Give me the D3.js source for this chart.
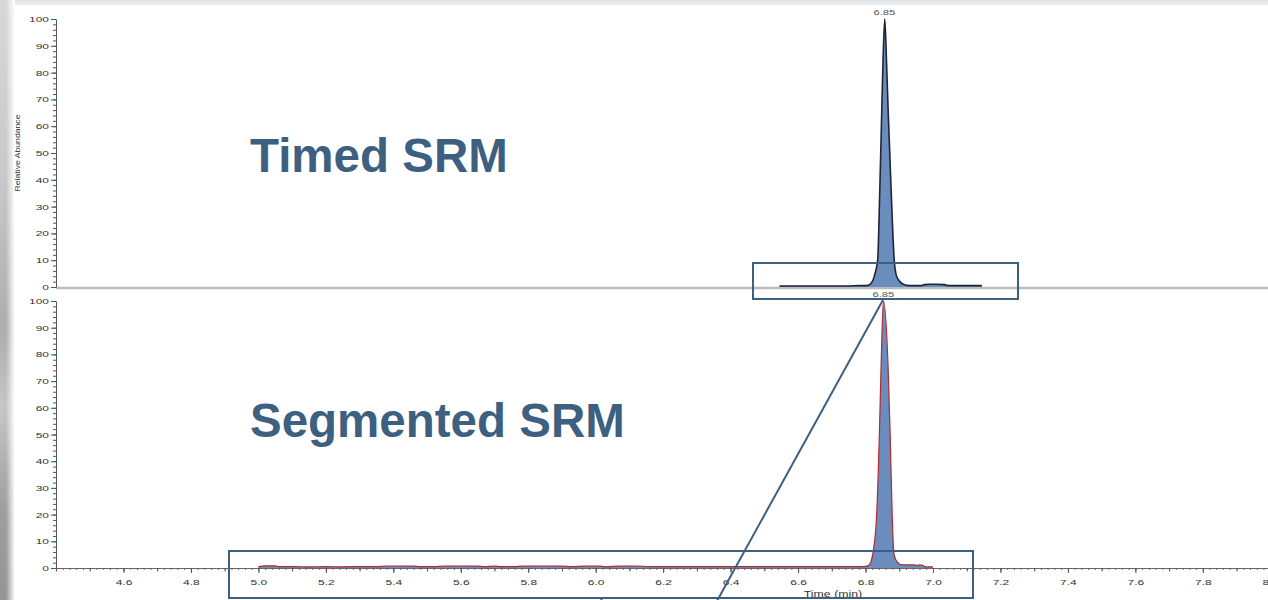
<!DOCTYPE html>
<html>
<head>
<meta charset="utf-8">
<script src="https://cdn.jsdelivr.net/npm/d3@7"></script>
<style>
  html, body { margin: 0; padding: 0; background: #fff; }
  svg { display: block; }
  text { font-family: "Liberation Sans", Arial, sans-serif; }
</style>
</head>
<body>
<svg id="chart" width="1268" height="600"></svg>
<script>
// ---------------- data ----------------
const titleTop = "Timed SRM";
const titleBottom = "Segmented SRM";
const peakLabel = "6.85";
const peakTime = 6.853;

// Timed SRM trace (time in min, relative abundance %)
const timedTime = [6.545, 6.60, 6.65, 6.70, 6.75, 6.78, 6.80, 6.807, 6.815, 6.822, 6.828, 6.836,
  6.842, 6.847, 6.852, 6.857, 6.862, 6.867, 6.873, 6.879, 6.885, 6.890, 6.896, 6.902, 6.908,
  6.915, 6.923, 6.94, 6.965, 6.974, 6.99, 7.01, 7.035, 7.04, 7.06, 7.10, 7.145];
const timedAbund = [0.4, 0.4, 0.4, 0.4, 0.4, 0.5, 0.5, 0.6, 1.2, 2.5, 5, 10,
  35, 60, 85, 100, 85, 66, 46, 26, 10, 5, 3, 2, 1.3,
  0.9, 0.6, 0.5, 0.5, 0.9, 1.0, 1.0, 0.9, 0.6, 0.5, 0.5, 0.5];

// Segmented SRM trace
const segTime = [5.00, 5.02, 5.05, 5.06, 5.10, 5.15, 5.20, 5.25, 5.30, 5.35, 5.38, 5.42, 5.46,
  5.48, 5.52, 5.55, 5.60, 5.65, 5.67, 5.70, 5.72, 5.76, 5.78, 5.84, 5.90, 5.93, 5.97, 6.01,
  6.03, 6.07, 6.12, 6.16, 6.20, 6.25, 6.30, 6.35, 6.40, 6.45, 6.50, 6.55, 6.60, 6.65, 6.70,
  6.75, 6.78, 6.80, 6.807, 6.815, 6.822, 6.833, 6.841, 6.846, 6.853, 6.867, 6.873, 6.879,
  6.884, 6.890, 6.896, 6.903, 6.92, 6.94, 6.955, 6.96, 6.97, 6.975, 6.99, 7.00];
const segAbund = [0.5, 0.8, 0.8, 0.5, 0.5, 0.45, 0.5, 0.45, 0.5, 0.5, 0.75, 0.75, 0.7,
  0.5, 0.5, 0.7, 0.75, 0.7, 0.5, 0.7, 0.5, 0.5, 0.7, 0.75, 0.7, 0.5, 0.7, 0.7,
  0.5, 0.7, 0.75, 0.55, 0.5, 0.55, 0.5, 0.55, 0.5, 0.55, 0.55, 0.5, 0.55, 0.5, 0.55,
  0.5, 0.5, 0.6, 0.8, 2.0, 5.6, 20, 50, 75, 100, 75, 50, 20,
  5.6, 3, 2, 1.3, 1.2, 1.2, 1.0, 1.2, 1.0, 0.5, 0.4, 0.4];

// axis ticks
const yMajorTicks = [0, 10, 20, 30, 40, 50, 60, 70, 80, 90, 100];
const yMinorTicks = d3.range(0, 101, 2);
const xMajorTicks = [4.6, 4.8, 5.0, 5.2, 5.4, 5.6, 5.8, 6.0, 6.2, 6.4, 6.6, 6.8, 7.0, 7.2, 7.4, 7.6, 7.8, 8.0];
const xMidTicks = d3.range(44, 81, 1).map(d => d / 10);
const xMinorTicks = d3.range(220, 401, 1).map(d => d / 50);
const xAxisTitle = "Time (min)";
const yAxisTitle = "Relative Abundance";

// ---------------- drawing ----------------
const svg = d3.select("#chart");
const W = 1268, H = 600;

const fillColor = "#6a8dbd";
const navy = "#3d5f80";
const stretch = 1.5;

// background (slide edges)
const defs = svg.append("defs");
const gV = defs.append("linearGradient").attr("id", "leftEdge").attr("x1", 0).attr("y1", 0).attr("x2", 0).attr("y2", 1);
[[0, "#d8d8d8"], [0.3, "#c8c8c8"], [0.55, "#adadad"], [0.68, "#c6c6c6"], [0.85, "#9e9e9e"], [1, "#959595"]]
  .forEach(([o, c]) => gV.append("stop").attr("offset", o).attr("stop-color", c));
const gH = defs.append("linearGradient").attr("id", "leftFade").attr("x1", 0).attr("y1", 0).attr("x2", 1).attr("y2", 0);
gH.append("stop").attr("offset", 0).attr("stop-color", "#fff").attr("stop-opacity", 0);
gH.append("stop").attr("offset", 1).attr("stop-color", "#fff").attr("stop-opacity", 1);
const gT = defs.append("linearGradient").attr("id", "topEdge").attr("x1", 0).attr("y1", 0).attr("x2", 0).attr("y2", 1);
gT.append("stop").attr("offset", 0).attr("stop-color", "#dfe3e7");
gT.append("stop").attr("offset", 0.7).attr("stop-color", "#e8ebee");
gT.append("stop").attr("offset", 1).attr("stop-color", "#ffffff");

svg.append("rect").attr("width", W).attr("height", H).attr("fill", "#fff");
svg.append("rect").attr("x", 0).attr("y", 0).attr("width", W).attr("height", 6).attr("fill", "url(#topEdge)");
svg.append("rect").attr("x", 0).attr("y", 0).attr("width", 14).attr("height", H).attr("fill", "url(#leftEdge)");
svg.append("rect").attr("x", 6).attr("y", 0).attr("width", 9).attr("height", H).attr("fill", "url(#leftFade)");

// scales
const x = d3.scaleLinear().domain([4.4, 8.0]).range([56, 1270.3]);
const yTop = d3.scaleLinear().domain([0, 100]).range([287, 19]);
const yBot = d3.scaleLinear().domain([0, 100]).range([568, 301]);

// titles
svg.append("text").attr("x", 250).attr("y", 172).text(titleTop)
  .attr("font-size", 47.5).attr("font-weight", "bold").attr("fill", navy);
svg.append("text").attr("x", 250).attr("y", 437).text(titleBottom)
  .attr("font-size", 47.5).attr("font-weight", "bold").attr("fill", navy);

// top panel baseline (gray)
svg.append("line").attr("x1", x(4.4)).attr("x2", W).attr("y1", yTop(0) + 1).attr("y2", yTop(0) + 1)
  .attr("stroke", "#bcbcbc").attr("stroke-width", 2.5);

// traces
function drawTrace(times, vals, y, strokeColor, sw) {
  const data = times.map((t, i) => ({ t, v: vals[i] }));
  const area = d3.area().x(d => x(d.t)).y0(y(0)).y1(d => y(d.v)).curve(d3.curveMonotoneX);
  const line = d3.line().x(d => x(d.t)).y(d => y(d.v)).curve(d3.curveMonotoneX);
  svg.append("path").datum(data).attr("d", area).attr("fill", fillColor);
  svg.append("path").datum(data).attr("d", line).attr("fill", "none")
    .attr("stroke", strokeColor).attr("stroke-width", sw).attr("stroke-linejoin", "round");
}
drawTrace(timedTime, timedAbund, yTop, "#1f2535", 1.6);
drawTrace(segTime, segAbund, yBot, "#b02a30", 1.2);

// y axes
function drawYAxis(y) {
  const gMinor = svg.append("g").attr("transform", `translate(${x(4.4)},0)`)
    .call(d3.axisLeft(y).tickValues(yMinorTicks).tickSize(3).tickSizeOuter(0).tickFormat(""));
  gMinor.select(".domain").attr("stroke", "#555");
  gMinor.selectAll(".tick line").attr("stroke", "#555");
  const g = svg.append("g").attr("transform", `translate(${x(4.4)},0)`)
    .call(d3.axisLeft(y).tickValues(yMajorTicks).tickSize(5).tickSizeOuter(0).tickPadding(2));
  g.select(".domain").remove();
  g.selectAll(".tick line").attr("stroke", "#555");
  g.selectAll(".tick text").attr("font-size", 8).attr("fill", "#333")
    .attr("font-family", "'Liberation Sans', Arial, sans-serif")
    .attr("x", -7 / stretch).attr("transform", `scale(${stretch},1)`);
}
drawYAxis(yTop);
drawYAxis(yBot);

// bottom x axis
const gxMinor = svg.append("g").attr("transform", `translate(0,${yBot(0)})`)
  .call(d3.axisBottom(x).tickValues(xMinorTicks).tickSize(2).tickSizeOuter(0).tickFormat(""));
gxMinor.select(".domain").attr("stroke", "#666");
gxMinor.selectAll(".tick line").attr("stroke", "#666");
const gxMid = svg.append("g").attr("transform", `translate(0,${yBot(0)})`)
  .call(d3.axisBottom(x).tickValues(xMidTicks).tickSize(3.5).tickSizeOuter(0).tickFormat(""));
gxMid.select(".domain").remove();
gxMid.selectAll(".tick line").attr("stroke", "#555");
const gx = svg.append("g").attr("transform", `translate(0,${yBot(0)})`)
  .call(d3.axisBottom(x).tickValues(xMajorTicks).tickSize(5).tickSizeOuter(0).tickPadding(6).tickFormat(d3.format(".1f")));
gx.select(".domain").remove();
gx.selectAll(".tick line").attr("stroke", "#555");
gx.selectAll(".tick text").attr("font-size", 8).attr("fill", "#333")
  .attr("font-family", "'Liberation Sans', Arial, sans-serif")
  .attr("transform", `scale(${stretch},1)`);

// axis titles
svg.append("text").attr("transform", `translate(833,597) scale(1.45,1)`)
  .attr("text-anchor", "middle").attr("font-size", 8.5).attr("fill", "#333").text(xAxisTitle);
svg.append("text").attr("transform", `translate(20,153) rotate(-90)`)
  .attr("text-anchor", "middle").attr("font-size", 7).attr("fill", "#333")
  .attr("textLength", 77).attr("lengthAdjust", "spacingAndGlyphs").text(yAxisTitle);

// peak labels
svg.append("text").attr("transform", `translate(${x(peakTime) + 1},15) scale(${stretch},1)`)
  .attr("text-anchor", "middle").attr("font-size", 7.5).attr("fill", "#555").text(peakLabel);
svg.append("text").attr("transform", `translate(${x(peakTime)},296.5) scale(${stretch},1)`)
  .attr("text-anchor", "middle").attr("font-size", 7.5).attr("fill", "#555").text(peakLabel);

// callout boxes and connecting lines
const callout = svg.append("g").attr("fill", "none").attr("stroke", navy).attr("stroke-width", 2);
callout.append("rect").attr("x", 753).attr("y", 263).attr("width", 265).attr("height", 36);
callout.append("rect").attr("x", 229).attr("y", 551).attr("width", 744).attr("height", 47);
callout.append("line").attr("x1", 883).attr("y1", 300).attr("x2", 717).attr("y2", 601);
callout.append("line").attr("x1", 602).attr("y1", 598).attr("x2", 601).attr("y2", 601);
</script>
</body>
</html>
